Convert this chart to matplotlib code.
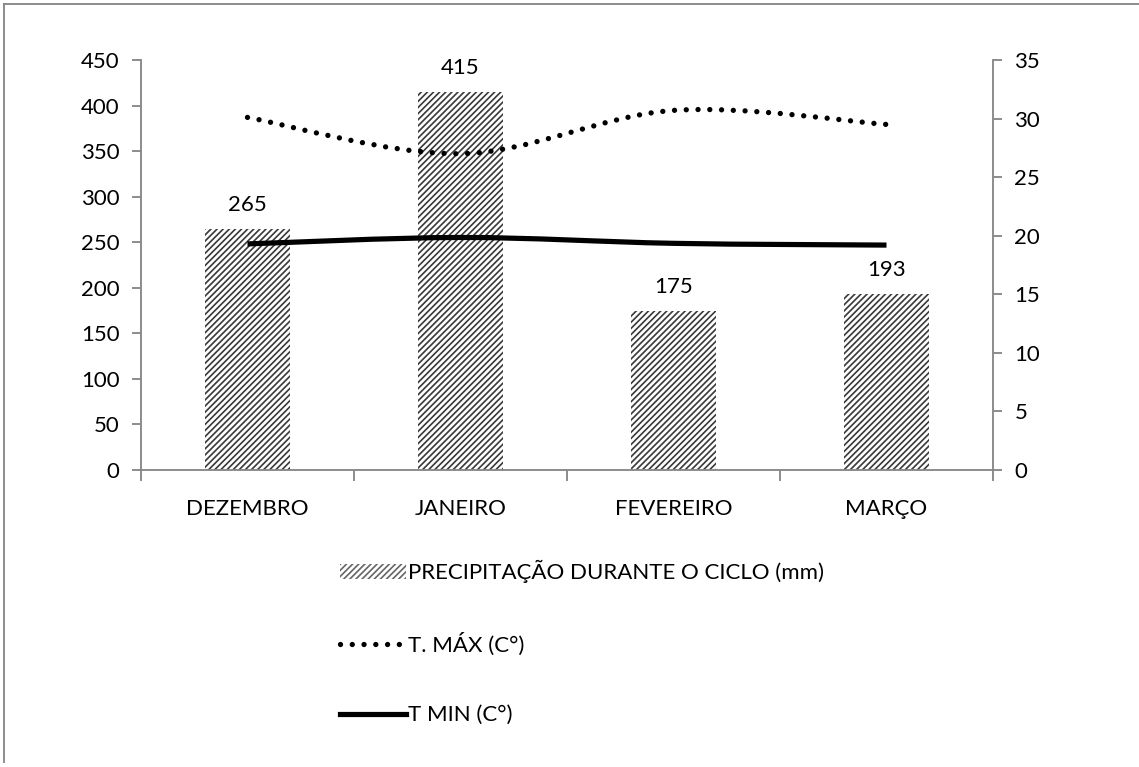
import numpy as np
import matplotlib
matplotlib.use("Agg")
import matplotlib.pyplot as plt
from matplotlib.path import Path
from matplotlib.patches import PathPatch, Patch
from matplotlib.lines import Line2D

plt.rcParams['font.family'] = ['Lato', 'DejaVu Sans']
plt.rcParams['hatch.linewidth'] = 1.1

months = ["DEZEMBRO", "JANEIRO", "FEVEREIRO", "MARÇO"]
precip = [265, 415, 175, 193]
t_max = [30.1, 27.0, 30.7, 29.5]
t_min = [19.3, 19.85, 19.35, 19.2]

precip_label = "PRECIPITAÇÃO DURANTE O CICLO (mm)"
tmax_label = "T. MÁX (C°)"
tmin_label = "T MIN (C°)"

axis_grey = "#868686"
FS = 14.6

DPI = 110
fig = plt.figure(figsize=(1139 / DPI, 767 / DPI), dpi=DPI)
ax = fig.add_axes([141 / 1139, 1 - 470 / 767, 852 / 1139, 410 / 767])
ax2 = ax.twinx()

x = np.arange(len(months))
bars = ax.bar(x, precip, width=0.4, color="white", edgecolor="#3a3a3a",
              linewidth=0, hatch="//////", zorder=2)
for xi, v in zip(x, precip):
    ax.annotate(f"{v}", (xi, v), xytext=(0, 9), textcoords="offset points",
                ha="center", va="bottom", fontsize=FS)

ax.set_xlim(-0.5, len(months) - 0.5)
ax.set_ylim(0, 450)
ax.set_yticks(np.arange(0, 451, 50))
ax2.set_ylim(0, 35)
ax2.set_yticks(np.arange(0, 36, 5))


def smooth_path(xs, ys):
    """Catmull-Rom style Bezier through the points (like spreadsheet smoothing)."""
    pts = np.column_stack([xs, ys]).astype(float)
    n = len(pts)
    verts = [pts[0]]
    codes = [Path.MOVETO]
    for i in range(n - 1):
        p0 = pts[i - 1] if i > 0 else pts[i]
        p1 = pts[i]
        p2 = pts[i + 1]
        p3 = pts[i + 2] if i + 2 < n else pts[i + 1]
        c1 = p1 + (p2 - p0) / 6.0
        c2 = p2 - (p3 - p1) / 6.0
        verts += [c1, c2, p2]
        codes += [Path.CURVE4] * 3
    return Path(verts, codes)


tmax_patch = PathPatch(smooth_path(x, t_max), fill=False, edgecolor="black",
                       linewidth=3.5, linestyle=(0, (0.001, 2.2)),
                       capstyle="round", zorder=4)
ax2.add_patch(tmax_patch)
tmin_patch = PathPatch(smooth_path(x, t_min), fill=False, edgecolor="black",
                       linewidth=3.4, capstyle="butt", zorder=4)
ax2.add_patch(tmin_patch)

# spines and ticks
for a in (ax, ax2):
    a.spines["top"].set_visible(False)
    for s in ("left", "right", "bottom"):
        a.spines[s].set_color(axis_grey)
        a.spines[s].set_linewidth(1.2)
ax.spines["right"].set_visible(False)
ax2.spines["left"].set_visible(False)
ax2.spines["bottom"].set_visible(False)

ax.tick_params(axis="y", direction="out", length=6, width=1.2, color=axis_grey,
               labelsize=FS, pad=8)
ax2.tick_params(axis="y", direction="out", length=6, width=1.2, color=axis_grey,
                labelsize=FS, pad=8)
ax.set_xticks(x)
ax.set_xticklabels(months)
ax.tick_params(axis="x", length=0, labelsize=FS, pad=19)
ax.set_xticks(np.arange(-0.5, len(months), 1.0), minor=True)
ax.tick_params(axis="x", which="minor", direction="out", length=7, width=1.2,
               color=axis_grey)

# legend stacked beneath the plot
handles = [
    Patch(facecolor="white", edgecolor="#666666", linewidth=0, hatch="//////"),
    Line2D([], [], color="black", linewidth=3.5, linestyle=(0, (0.001, 2.2)),
           dash_capstyle="round"),
    Line2D([], [], color="black", linewidth=3.4),
]
leg = fig.legend(handles, [precip_label, tmax_label, tmin_label],
                 loc="upper left", bbox_to_anchor=(340 / 1139, 1 - 560 / 767),
                 frameon=False, fontsize=FS, handlelength=2.95, handleheight=0.7,
                 handletextpad=0.12, labelspacing=2.22, borderaxespad=0,
                 borderpad=0)

# outer frame lines
fig.add_artist(Line2D([4 / 1139, 1], [1 - 4 / 767, 1 - 4 / 767],
                      transform=fig.transFigure, color=axis_grey, linewidth=1.2))
fig.add_artist(Line2D([4 / 1139, 4 / 1139], [1 - 4 / 767, 1 - 762 / 767],
                      transform=fig.transFigure, color=axis_grey, linewidth=1.2))

fig.savefig("out.png", dpi=DPI, facecolor="white")
